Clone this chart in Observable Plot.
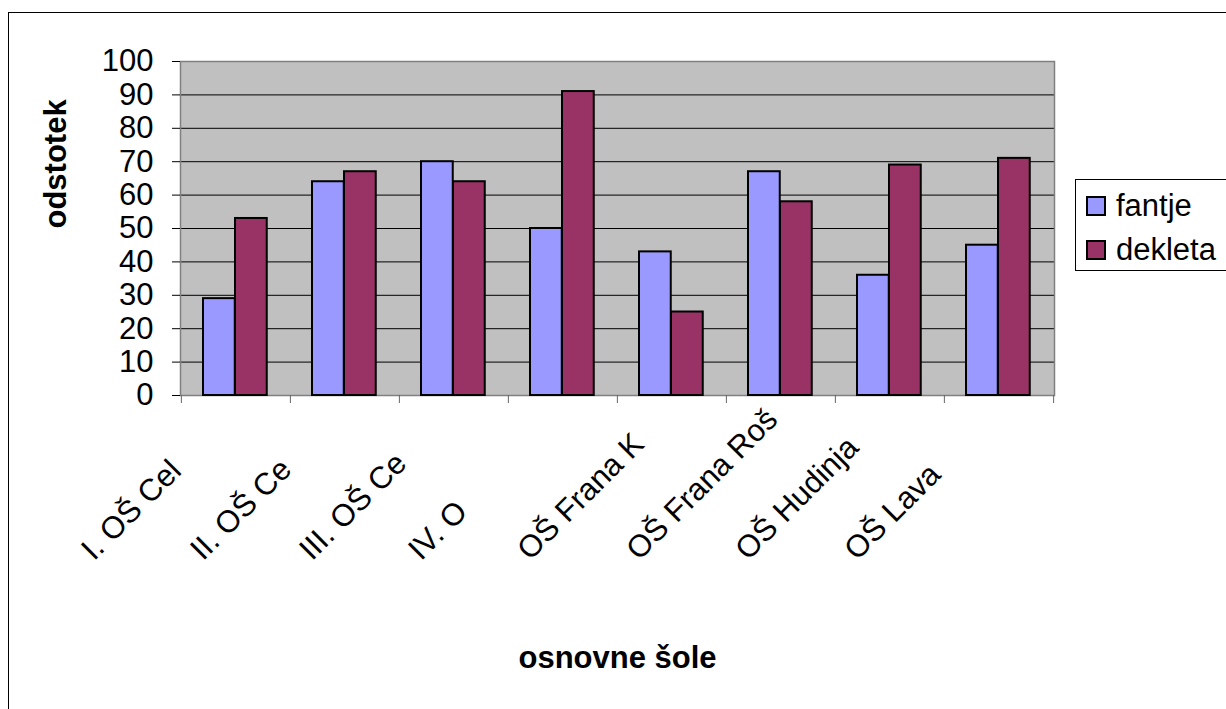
<!DOCTYPE html>
<html>
<head>
<meta charset="utf-8">
<script src="https://cdn.jsdelivr.net/npm/d3@7"></script>
<script src="https://cdn.jsdelivr.net/npm/@observablehq/plot@0.6"></script>
<style>
  body { margin: 0; background: #fff; font-family: "Liberation Sans", Arial, sans-serif; }
  #wrap { position: relative; width: 1226px; height: 709px; overflow: hidden; background: #fff; }
  #border { position: absolute; left: 8px; top: 12px; width: 1400px; height: 900px; border-left: 1px solid #000; border-top: 1px solid #000; }
  #chart { position: absolute; left: 0; top: 0; }
  #legend { position: absolute; left: 1075px; top: 179px; width: 170px; height: 92px; border: 1px solid #000; box-sizing: border-box; background: #fff; }
  .item { position: absolute; left: 10px; height: 40px; display: flex; align-items: center; font-size: 31px; color: #000; }
  .sw { width: 16px; height: 16px; border: 2px solid #000; margin-right: 10px; }
</style>
</head>
<body>
<div id="wrap">
  <div id="border"></div>
  <div id="chart"></div>
  <div id="legend"></div>
</div>
<script>
// ---- data ----
const categories = ["I. OŠ Cel", "II. OŠ Ce", "III. OŠ Ce", "IV. O", "OŠ Frana K", "OŠ Frana Roš", "OŠ Hudinja", "OŠ Lava"];
const seriesNames = ["fantje", "dekleta"];
const fantje  = [29, 64, 70, 50, 43, 67, 36, 45];
const dekleta = [53, 67, 64, 91, 25, 58, 69, 71];
const yTicks = [0, 10, 20, 30, 40, 50, 60, 70, 80, 90, 100];
const xTitle = "osnovne šole";
const yTitle = "odstotek";
const colors = ["#9999FF", "#993366"];

// ---- layout ----
const W = 1226, H = 709;
const mL = 180, mR = 172, mT = 61, mB = 314;
const bw = (W - mL - mR) / categories.length;

const rows = categories.flatMap((c, i) => [
  {school: c, series: seriesNames[0], value: fantje[i]},
  {school: c, series: seriesNames[1], value: dekleta[i]}
]);

const chart = Plot.plot({
  width: W, height: H,
  marginLeft: mL, marginRight: mR, marginTop: mT, marginBottom: mB,
  style: {fontFamily: "'Liberation Sans', Arial, sans-serif", color: "#000", background: "transparent"},
  x: {domain: categories, padding: 0},
  y: {domain: [0, 100]},
  marks: [
    Plot.frame({fill: "#c0c0c0", stroke: "none"}),
    Plot.ruleY(yTicks.filter(t => t > 0 && t < 100), {stroke: "#000", strokeWidth: 1}),
    Plot.frame({stroke: "#808080", strokeWidth: 1.5}),
    Plot.barY(rows.filter(d => d.series === seriesNames[0]), {
      x: "school", y: "value", fill: colors[0], stroke: "#000", strokeWidth: 2,
      insetLeft: 22, insetRight: bw - 54
    }),
    Plot.barY(rows.filter(d => d.series === seriesNames[1]), {
      x: "school", y: "value", fill: colors[1], stroke: "#000", strokeWidth: 2,
      insetLeft: 54, insetRight: bw - 86
    }),
    Plot.axisY(yTicks, {tickSize: 8, tickPadding: 19, fontSize: 31, label: null}),
    Plot.axisX(categories, {tickSize: 8, tickFormat: () => "", label: null, dx: -bw / 2, stroke: "#666"}),
    Plot.axisX([categories[categories.length - 1]], {tickSize: 8, tickFormat: () => "", label: null, dx: bw / 2, stroke: "#666"}),
    Plot.text(categories, {
      x: d => d, text: d => d, frameAnchor: "bottom",
      rotate: -45, textAnchor: "start", lineAnchor: "bottom",
      fontSize: 31, dx: -142, dy: 166
    }),
    Plot.text([yTitle], {text: d => d, frameAnchor: "left", rotate: -90, dx: -124, fontSize: 31, fontWeight: "bold"}),
    Plot.text([xTitle], {text: d => d, frameAnchor: "bottom", dy: 272, fontSize: 31, fontWeight: "bold"})
  ]
});
document.getElementById("chart").appendChild(chart);

// legend
const legend = document.getElementById("legend");
seriesNames.forEach((name, i) => {
  const item = document.createElement("div");
  item.className = "item";
  item.style.top = (i === 0 ? 6 : 50) + "px";
  const sw = document.createElement("div");
  sw.className = "sw";
  sw.style.background = colors[i];
  const t = document.createElement("span");
  t.textContent = name;
  item.appendChild(sw);
  item.appendChild(t);
  legend.appendChild(item);
});
</script>
</body>
</html>
